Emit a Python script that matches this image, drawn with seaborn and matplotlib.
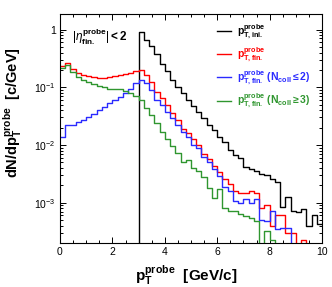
import numpy as np
import pandas as pd
import seaborn as sns
import matplotlib
matplotlib.use("Agg")
from matplotlib import pyplot as plt
from matplotlib.ticker import FixedLocator, FixedFormatter, LogLocator, NullFormatter, MultipleLocator

# bin edges in GeV/c (0.2 GeV/c bins)
bin_edges = np.linspace(0, 10, 51)

# dN/dpT per bin
pt_ini = [0, 0, 0, 0, 0, 0, 0, 0, 0, 0, 0, 0, 0, 0, 0,
          0.92, 0.67, 0.51, 0.37, 0.25, 0.19, 0.135, 0.10, 0.078, 0.060,
          0.047, 0.038, 0.029, 0.022, 0.018, 0.0137, 0.0112, 0.0082, 0.0066, 0.0059,
          0.0042, 0.0039, 0.0036, 0.0032, 0.0030, 0.0026, 0.0023, 0.00083, 0.00126, 0.00072,
          0.00068, 0.00078, 0.00040, 0.00060, 0.00043]
pt_fin = [0.235, 0.26, 0.21, 0.175, 0.164, 0.154, 0.148, 0.146, 0.146, 0.148,
          0.155, 0.163, 0.167, 0.175, 0.19, 0.20, 0.164, 0.125, 0.083, 0.064,
          0.049, 0.036, 0.027, 0.019, 0.016, 0.0128, 0.0098, 0.0070, 0.0057, 0.0044,
          0.0034, 0.0026, 0.0021, 0.0016, 0.0015, 0.0015, 0.0016, 0.0015, 0.0008, 0.0009,
          0.0004, 0.0006, 0.0006, 0.0003, 0.0003, 0, 0.00023, 0, 0, 0]
pt_fin_ncoll_le2 = [0.0137, 0.022, 0.022, 0.025, 0.027, 0.031, 0.034, 0.040, 0.046, 0.053,
                    0.060, 0.068, 0.078, 0.092, 0.118, 0.136, 0.118, 0.090, 0.060, 0.049,
                    0.038, 0.029, 0.022, 0.0165, 0.0135, 0.0098, 0.0088, 0.0062, 0.0050, 0.0038,
                    0.0029, 0.0019, 0.0016, 0.00107, 0.0010, 0.00115, 0.0010, 0.00115, 0.00051, 0.00048,
                    0.00072, 0.00035, 0.00037, 0.00037, 0, 0, 0, 0, 0, 0]
pt_fin_ncoll_ge3 = [0.214, 0.24, 0.185, 0.15, 0.135, 0.123, 0.114, 0.106, 0.10, 0.095,
                    0.094, 0.094, 0.086, 0.081, 0.070, 0.060, 0.043, 0.033, 0.024, 0.017,
                    0.0125, 0.0095, 0.0072, 0.0050, 0.0054, 0.0040, 0.0036, 0.0028, 0.0018, 0.0012,
                    0.0017, 0.0008, 0.00072, 0.00072, 0.00063, 0.00059, 0.00055, 0.00048, 0, 0.00032,
                    0.00023, 0, 0, 0, 0, 0, 0, 0, 0, 0]

series = [
    (pt_ini, "black", r"$\mathbf{p^{probe}_{T,ini.}}$"),
    (pt_fin, "#ff0000", r"$\mathbf{p^{probe}_{T,fin.}}$"),
    (pt_fin_ncoll_le2, "#2a2aff", r"$\mathbf{p^{probe}_{T,fin.}\ (N_{coll}\leq 2)}$"),
    (pt_fin_ncoll_ge3, "#2f962f", r"$\mathbf{p^{probe}_{T,fin.}\ (N_{coll}\geq 3)}$"),
]

plt.rcParams["font.family"] = ["Liberation Sans", "DejaVu Sans"]
plt.rcParams["mathtext.fontset"] = "custom"
plt.rcParams["mathtext.rm"] = "Liberation Sans"
plt.rcParams["mathtext.it"] = "Liberation Sans:italic"
plt.rcParams["mathtext.bf"] = "Liberation Sans:bold"

fig = plt.figure(figsize=(3.32, 2.87), dpi=100)
ax = fig.add_axes([0.1807, 0.1533, 0.7893, 0.7979])

handles = []
for values, color, label in series:
    df = pd.DataFrame({"pt": bin_edges, "dndpt": list(values) + [values[-1]]})
    sns.lineplot(data=df, x="pt", y="dndpt", ax=ax, color=color, lw=1.0,
                 drawstyle="steps-post", estimator=None, legend=False)
    handles.append(ax.get_lines()[-1])

ax.set_yscale("log")
ax.set_xlim(0, 10)
ax.set_ylim(2e-4, 1.86)

# ROOT-like axes
ax.xaxis.set_major_locator(MultipleLocator(2))
ax.xaxis.set_minor_locator(MultipleLocator(0.5))
ax.yaxis.set_major_locator(FixedLocator([1e-3, 1e-2, 1e-1, 1]))
ax.yaxis.set_major_formatter(FixedFormatter([r"$10^{-3}$", r"$10^{-2}$", r"$10^{-1}$", "1"]))
ax.yaxis.set_minor_locator(LogLocator(base=10, subs=np.arange(2, 10)))
ax.yaxis.set_minor_formatter(NullFormatter())
ax.tick_params(which="both", direction="in", top=True, right=True, width=0.7, labelsize=7.5)
ax.tick_params(which="major", length=4, pad=3)
ax.tick_params(which="minor", length=2)
for sp in ax.spines.values():
    sp.set_linewidth(0.8)

ax.set_xlabel(r"$\mathbf{p^{probe}_{T}\ \ [GeV/c]}$", fontsize=11)
ax.set_ylabel(r"$\mathbf{dN/dp^{probe}_{T}\ \ [c/GeV]}$", fontsize=10.5)
ax.xaxis.set_label_coords(0.48, -0.09)
ax.yaxis.set_label_coords(-0.135, 0.57)

ax.text(0.045, 0.945, r"$|\eta^{\mathbf{probe}}_{\mathbf{fin.}}|\mathbf{<2}$",
        transform=ax.transAxes, fontsize=8.5, va="top", ha="left")

ax.legend(handles, [s[2] for s in series], loc="upper left",
          bbox_to_anchor=(0.6, 0.965), frameon=False, fontsize=7.5,
          handlelength=1.3, handletextpad=0.6, labelspacing=0.42,
          borderpad=0, borderaxespad=0, labelcolor="linecolor")

fig.savefig("out.png", dpi=100)
